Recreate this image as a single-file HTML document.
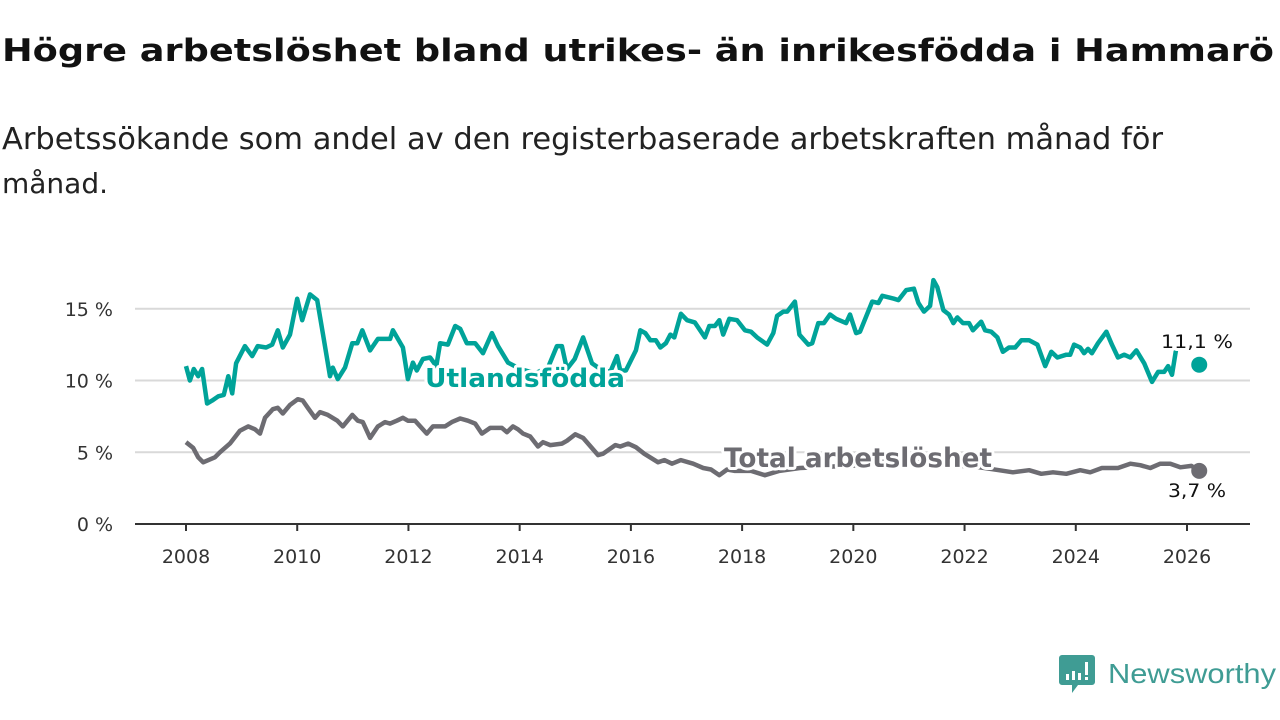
<!DOCTYPE html>
<html><head><meta charset="utf-8">
<style>
html,body{margin:0;padding:0;background:#fff;width:1280px;height:720px;overflow:hidden;font-family:"DejaVu Sans",sans-serif;}
svg{position:absolute;left:0;top:0;}
</style></head><body>
<svg width="1280" height="720">
  <text x="2" y="61" font-size="31" font-weight="bold" fill="#111" font-family="'DejaVu Sans', sans-serif" textLength="1272" lengthAdjust="spacingAndGlyphs">Högre arbetslöshet bland utrikes- än inrikesfödda i Hammarö</text>
</svg>
<svg id="chart" width="1280" height="720"></svg>
<script>
const yTicks=[0,5,10,15];
const yTickLabels=["0 %","5 %","10 %","15 %"];
const xTicks=[2008,2010,2012,2014,2016,2018,2020,2022,2024,2026];
const utlDates=[2008.00,2008.07,2008.14,2008.22,2008.29,2008.38,2008.47,2008.58,2008.68,2008.76,2008.83,2008.90,2009.06,2009.19,2009.29,2009.44,2009.55,2009.65,2009.74,2009.87,2010.00,2010.09,2010.23,2010.36,2010.46,2010.59,2010.64,2010.73,2010.86,2010.99,2011.08,2011.17,2011.31,2011.45,2011.67,2011.72,2011.90,2011.99,2012.08,2012.15,2012.26,2012.39,2012.50,2012.57,2012.71,2012.84,2012.93,2013.05,2013.20,2013.34,2013.50,2013.61,2013.79,2014.01,2014.28,2014.51,2014.67,2014.76,2014.85,2014.99,2015.14,2015.30,2015.45,2015.63,2015.75,2015.81,2015.91,2016.09,2016.17,2016.26,2016.35,2016.45,2016.53,2016.63,2016.71,2016.78,2016.90,2017.01,2017.15,2017.33,2017.41,2017.51,2017.59,2017.66,2017.77,2017.91,2018.05,2018.16,2018.27,2018.45,2018.56,2018.63,2018.74,2018.81,2018.95,2019.03,2019.19,2019.26,2019.37,2019.47,2019.58,2019.69,2019.87,2019.94,2020.05,2020.12,2020.34,2020.45,2020.52,2020.73,2020.81,2020.95,2021.09,2021.17,2021.27,2021.38,2021.44,2021.51,2021.62,2021.72,2021.80,2021.87,2021.97,2022.08,2022.15,2022.30,2022.37,2022.48,2022.59,2022.69,2022.80,2022.91,2023.02,2023.16,2023.31,2023.45,2023.56,2023.67,2023.83,2023.90,2023.97,2024.08,2024.15,2024.22,2024.29,2024.40,2024.55,2024.65,2024.76,2024.87,2024.98,2025.09,2025.23,2025.37,2025.48,2025.59,2025.66,2025.73,2025.81,2026.22];
const utlValues=[11.0,10.0,10.8,10.3,10.8,8.4,8.6,8.9,9.0,10.3,9.1,11.2,12.4,11.7,12.4,12.3,12.5,13.5,12.3,13.2,15.7,14.2,16.0,15.6,13.3,10.3,10.9,10.1,10.9,12.6,12.6,13.5,12.1,12.9,12.9,13.5,12.3,10.1,11.25,10.7,11.5,11.6,11.0,12.6,12.5,13.8,13.6,12.6,12.6,11.9,13.3,12.4,11.25,10.8,10.5,10.9,12.4,12.4,10.8,11.5,13.0,11.2,10.8,10.6,11.7,10.7,10.7,12.1,13.5,13.3,12.8,12.8,12.3,12.6,13.2,13.0,14.65,14.2,14.05,13.0,13.8,13.8,14.2,13.2,14.3,14.2,13.5,13.4,13.0,12.5,13.3,14.5,14.8,14.8,15.5,13.2,12.5,12.6,14.0,14.0,14.6,14.3,14.0,14.6,13.3,13.4,15.5,15.4,15.9,15.7,15.6,16.3,16.4,15.4,14.8,15.2,17.0,16.5,14.9,14.6,14.0,14.4,14.0,14.0,13.5,14.1,13.5,13.4,13.0,12.0,12.3,12.3,12.8,12.8,12.5,11.0,12.0,11.6,11.8,11.8,12.5,12.3,11.9,12.2,11.9,12.6,13.4,12.5,11.6,11.8,11.6,12.1,11.2,9.9,10.6,10.6,11.0,10.4,12.3,11.1];
const totDates=[2008.00,2008.13,2008.22,2008.31,2008.43,2008.52,2008.61,2008.79,2008.97,2009.12,2009.24,2009.33,2009.42,2009.56,2009.65,2009.74,2009.87,2010.01,2010.10,2010.19,2010.32,2010.41,2010.55,2010.72,2010.82,2010.99,2011.09,2011.18,2011.31,2011.45,2011.58,2011.67,2011.79,2011.90,2011.99,2012.12,2012.33,2012.44,2012.66,2012.78,2012.93,2013.07,2013.20,2013.32,2013.47,2013.68,2013.77,2013.88,2013.97,2014.06,2014.19,2014.33,2014.42,2014.55,2014.76,2014.85,2015.00,2015.14,2015.41,2015.50,2015.72,2015.81,2015.95,2016.09,2016.24,2016.49,2016.60,2016.74,2016.90,2017.12,2017.30,2017.44,2017.59,2017.73,2017.87,2018.16,2018.41,2018.67,2019.04,2019.58,2020.12,2020.66,2021.20,2021.74,2022.19,2022.62,2022.87,2023.16,2023.38,2023.59,2023.83,2024.08,2024.26,2024.47,2024.76,2024.98,2025.16,2025.34,2025.52,2025.70,2025.88,2026.08,2026.22];
const totValues=[5.7,5.3,4.65,4.3,4.5,4.65,5.0,5.6,6.5,6.8,6.6,6.3,7.4,8.0,8.1,7.7,8.3,8.7,8.6,8.1,7.4,7.8,7.6,7.2,6.8,7.6,7.2,7.1,6.0,6.8,7.1,7.0,7.2,7.4,7.2,7.2,6.3,6.8,6.8,7.1,7.35,7.2,7.0,6.3,6.7,6.7,6.4,6.8,6.6,6.3,6.1,5.4,5.7,5.5,5.6,5.8,6.25,6.0,4.8,4.9,5.5,5.4,5.6,5.35,4.9,4.3,4.45,4.2,4.45,4.2,3.9,3.8,3.4,3.8,3.7,3.7,3.4,3.7,3.9,4.0,4.1,4.4,4.3,4.1,4.0,3.75,3.6,3.75,3.5,3.6,3.5,3.75,3.6,3.9,3.9,4.2,4.1,3.9,4.2,4.2,3.95,4.05,3.7];

const svg=document.getElementById('chart');
const NS='http://www.w3.org/2000/svg';
const X0=186,X1=1187,Y0=524,Y1=380.5;
function xs(t){return X0+(t-2008)*(X1-X0)/18;}
function ys(v){return Y0+(v)*(Y1-Y0)/10;}
function mk(tag,attrs,parent){const e=document.createElementNS(NS,tag);for(const k in attrs)e.setAttribute(k,attrs[k]);(parent||svg).appendChild(e);return e;}
const FONT='"DejaVu Sans", sans-serif';

const s1=mk('text',{x:2,y:149,'font-size':30,fill:'#222','font-family':FONT,textLength:1161,lengthAdjust:'spacingAndGlyphs'});
s1.textContent='Arbetssökande som andel av den registerbaserade arbetskraften månad för';


const s2=mk('text',{x:2,y:193,'font-size':28,fill:'#222','font-family':FONT});
s2.textContent='månad.';



yTicks.forEach((v,i)=>{
  if(v>0){const g=mk('line',{x1:135,x2:1250,y1:ys(v),y2:ys(v),stroke:'#d9d9d9','stroke-width':2});
  
  }
  const t=mk('text',{x:113,y:ys(v)+7,'text-anchor':'end','font-size':19,fill:'#333','font-family':FONT});
  t.textContent=yTickLabels[i];
  
  
});
const ax=mk('line',{x1:135,x2:1250,y1:Y0,y2:Y0,stroke:'#333','stroke-width':2});


xTicks.forEach(y=>{
  const tk=mk('line',{x1:xs(y),x2:xs(y),y1:Y0,y2:Y0+7,stroke:'#333','stroke-width':2});
  
  
  const t=mk('text',{x:xs(y),y:563,'text-anchor':'middle','font-size':19,fill:'#333','font-family':FONT});
  t.textContent=y;
  
  
});
function pathOf(d,v,n){let s='';for(let i=0;i<n;i++)s+=(i?'L':'M')+xs(d[i]).toFixed(1)+','+ys(v[i]).toFixed(1);return s;}
const pt=mk('path',{d:pathOf(totDates,totValues,totDates.length),fill:'none',stroke:'#6d6c72','stroke-width':4.5,'stroke-linejoin':'round'});


const pu=mk('path',{d:pathOf(utlDates,utlValues,utlDates.length-1),fill:'none',stroke:'#00a399','stroke-width':4.5,'stroke-linejoin':'round'});


const ul=utlDates.length-1, tl=totDates.length-1;
const du=mk('circle',{cx:xs(utlDates[ul]),cy:ys(utlValues[ul]),r:8,fill:'#00a399'});


const dt=mk('circle',{cx:xs(totDates[tl]),cy:ys(totValues[tl]),r:8,fill:'#6d6c72'});


function label(txt,x,y,size,weight,fill,len,name){
  const t=mk('text',{x:x,y:y,'font-size':size,'font-weight':weight,fill:fill,'font-family':FONT,stroke:'#fff','stroke-width':6,'paint-order':'stroke','stroke-linejoin':'round',textLength:len,lengthAdjust:'spacingAndGlyphs'});
  t.textContent=txt;
  
  
}
label('Utlandsfödda',425,387,26,'bold','#00a399',200,'utlandsfodda-label');
label('Total arbetslöshet',724,467,27,'bold','#6d6c72',268,'total-label');
label('11,1 %',1161,348,19,'normal','#111',72,'utlandsfodda-value-label');
label('3,7 %',1168,497,19,'normal','#111',58,'total-value-label');
</script>
<svg width="1280" height="720" style="pointer-events:none">
  <path d="M1062,655 h30 a3,3 0 0 1 3,3 v24 a3,3 0 0 1 -3,3 h-14 l-6,8 v-8 h-10 a3,3 0 0 1 -3,-3 v-24 a3,3 0 0 1 3,-3z" fill="#3f9c94"/>
  <rect x="1066" y="674" width="3" height="6" fill="#fff"/><rect x="1072" y="671" width="3" height="9" fill="#fff"/><rect x="1078" y="673" width="3" height="7" fill="#fff"/><rect x="1085" y="662" width="3" height="13" fill="#fff"/><rect x="1085" y="677" width="3" height="3" fill="#fff"/>
  <text x="1108" y="683" font-size="28" fill="#3f9c94" font-family="'Liberation Sans', sans-serif" textLength="168" lengthAdjust="spacingAndGlyphs">Newsworthy</text>
</svg>
</body></html>
